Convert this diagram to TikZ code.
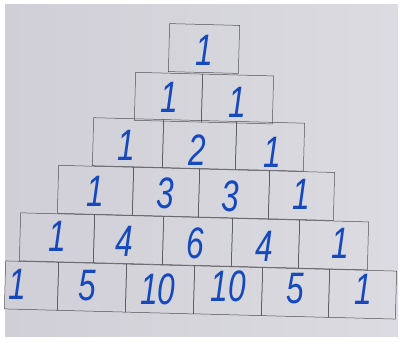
\documentclass[tikz,border=0pt]{standalone}
\usepackage{fontspec}
\newfontfamily\numfont{Liberation Sans}
\definecolor{paperL}{RGB}{208,207,215}
\definecolor{paperR}{RGB}{219,219,225}
\definecolor{linegray}{RGB}{80,80,84}
\definecolor{penblue}{RGB}{22,72,190}
\tikzset{
  cell/.style={draw=linegray, line width=0.5pt, minimum width=#1, minimum height=48pt, inner sep=0pt, rotate=-1.5},
  num/.style={font=\numfont\itshape\fontsize{44}{44}\selectfont, text=penblue, inner sep=0pt, xscale=0.72}
}
\begin{document}
\begin{tikzpicture}[x=1pt,y=-1pt]
\useasboundingbox (0,0) rectangle (403,342);
\fill[white] (0,0) rectangle (403,342);
\shade[left color=paperL, right color=paperR] (5,5) rectangle (398,336);
% row 1
\node[cell=70] (a1) at (204,48.5) {};
% row 2
\node[cell=67] (b1) at (168.5,97.2) {};
\node[cell=71] (b2) at (237.5,99.0) {};
% row 3
\node[cell=70] (c1) at (128,142.6) {};
\node[cell=73] (c2) at (199.5,144.5) {};
\node[cell=68] (c3) at (270,146.3) {};
% row 4
\node[cell=75] (d1) at (95.5,190.3) {};
\node[cell=66] (d2) at (166,192.1) {};
\node[cell=70] (d3) at (234,193.9) {};
\node[cell=65] (d4) at (301.5,195.6) {};
% row 5
\node[cell=74] (e1) at (57,237.8) {};
\node[cell=69] (e2) at (128.5,239.6) {};
\node[cell=69] (e3) at (197.5,241.4) {};
\node[cell=67] (e4) at (265.5,243.2) {};
\node[cell=69] (e5) at (333.5,245.0) {};
% row 6
\node[cell=53] (f1) at (31.5,285.6) {};
\node[cell=68] (f2) at (92,287.2) {};
\node[cell=68] (f3) at (160,289.0) {};
\node[cell=68] (f4) at (228,290.7) {};
\node[cell=67] (f5) at (295.5,292.5) {};
\node[cell=67] (f6) at (362.5,294.2) {};
% numbers
\node[num] (na1) at (204,50) {1};
\node[num] (nb1) at (169,97) {1};
\node[num] (nb2) at (237,102) {1};
\node[num] (nc1) at (126,145) {1};
\node[num] (nc2) at (197,150) {2};
\node[num] (nc3) at (272,152) {1};
\node[num] (nd1) at (95,191) {1};
\node[num] (nd2) at (165,193) {3};
\node[num] (nd3) at (230,196) {3};
\node[num] (nd4) at (301,194) {1};
\node[num] (ne1) at (57,236) {1};
\node[num] (ne2) at (124,241) {4};
\node[num] (ne3) at (195,243) {6};
\node[num] (ne4) at (264,246) {4};
\node[num] (ne5) at (340,243) {1};
\node[num] (nf1) at (17,284) {1};
\node[num] (nf2) at (87,286) {5};
\node[num] (nf3) at (158,289) {10};
\node[num] (nf4) at (228,286) {10};
\node[num] (nf5) at (295,289) {5};
\node[num] (nf6) at (363,289) {1};
\end{tikzpicture}
\end{document}
